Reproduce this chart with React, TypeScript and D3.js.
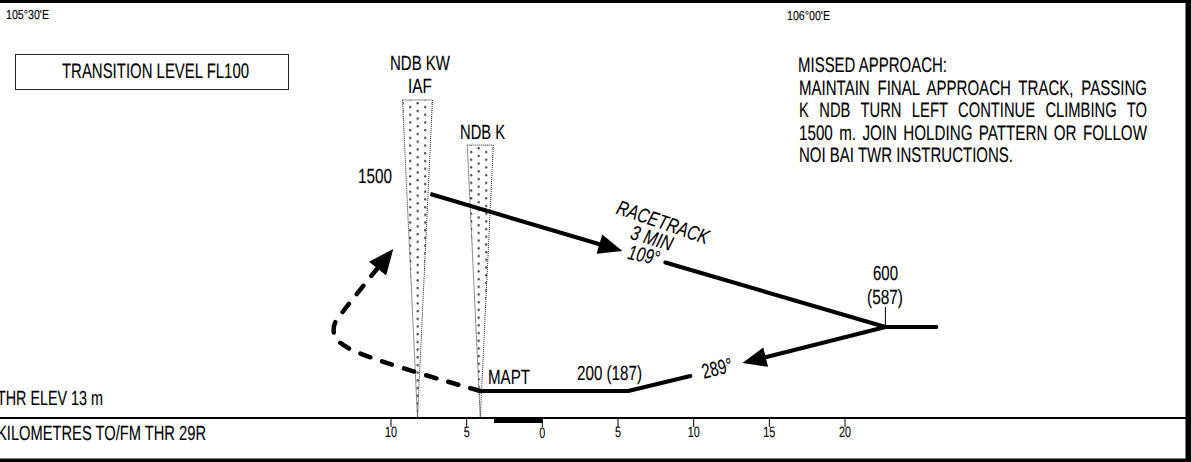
import React, { useLayoutEffect, useRef } from "react";
import * as d3 from "d3";

const W = 1191, H = 462;

// Distance axis: negative = left of the threshold on the profile (km)
const axisKm = [-10, -5, 0, 5, 10, 15, 20];
const scaleBarKm = [-3.2, 0];

// Profile data: [km, altitude m]
type P = [number, number];
const outboundLeg: P[] = [[-7.4, 1431], [5.29, 1075]];
const outboundRest: P[] = [[8.13, 1003], [22.67, 600], [26.04, 600]];
const inboundLeg: P[] = [[22.67, 600], [13.22, 375]];
const inboundRest: P[] = [[9.78, 294], [5.68, 200], [-4.1, 200]];
const missedLeg: P[] = [[-4.1, 200], [-12.69, 462], [-13.68, 537], [-13.75, 612], [-13.2, 693], [-9.85, 1087]];
const fixTick: P[] = [[22.67, 600], [22.67, 725]];

const fanKW = { km: -8.25, halfKm: 0.99, top: 2019, base: 31 };
const fanK = { km: -4.1, halfKm: 0.86, top: 1737, base: 31 };
const fans = [fanKW, fanK];

const notes = [
  { t: "MISSED APPROACH:", x: 798, y: 72, w: 149, ws: 0 },
  { t: "MAINTAIN FINAL APPROACH TRACK, PASSING", x: 799, y: 95, w: 348, ws: 5 },
  { t: "K NDB TURN LEFT CONTINUE CLIMBING TO", x: 799, y: 117, w: 348, ws: 9 },
  { t: "1500 m. JOIN HOLDING PATTERN OR FOLLOW", x: 799, y: 140, w: 348, ws: 3 },
  { t: "NOI BAI TWR INSTRUCTIONS.", x: 799, y: 162, w: 214, ws: 0 },
];
const labels = [
  { t: "105°30'E", x: 6, y: 19, w: 43, s: 13 },
  { t: "106°00'E", x: 787, y: 20, w: 43, s: 13 },
  { t: "TRANSITION LEVEL FL100", x: 62, y: 78, w: 187, s: 21 },
  { t: "NDB KW", x: 390, y: 70, w: 60, s: 20.5 },
  { t: "IAF", x: 408, y: 93, w: 24, s: 20.5 },
  { t: "NDB K", x: 460, y: 139, w: 45, s: 20.5 },
  { t: "1500", x: 358, y: 183, w: 34, s: 20.5 },
  { t: "MAPT", x: 488, y: 384, w: 42, s: 20.5 },
  { t: "200 (187)", x: 577, y: 380, w: 65, s: 20.5 },
  { t: "600", x: 873, y: 280, w: 25, s: 20.5 },
  { t: "(587)", x: 867, y: 304, w: 36, s: 20.5 },
  { t: "THR ELEV 13 m", x: -3, y: 405, w: 106, s: 20.5 },
  { t: "KILOMETRES TO/FM THR 29R", x: -3, y: 440, w: 209, s: 20.5 },
];
const rotated = [
  { t: "RACETRACK", x: 663, y: 222, w: 96, r: 19, s: 20.5, i: true },
  { t: "3 MIN", x: 652, y: 238, w: 43, r: 17, s: 20.5, i: true },
  { t: "109°", x: 644, y: 255, w: 32, r: 12, s: 20.5, i: true },
  { t: "289°", x: 717, y: 368, w: 31, r: -14, s: 20.5, i: false },
];

const FONT = "'Liberation Sans', Arial, sans-serif";

// Text squeezed horizontally to a measured target width (the reference uses a condensed face)
function Fit({ t, x, y, w, s, r = 0, ws = 0, anchor = "start", italic = false, dy }: any) {
  const ref = useRef<SVGTextElement>(null);
  useLayoutEffect(() => {
    const el = ref.current!;
    const sx = w / el.getComputedTextLength();
    el.setAttribute("transform", `translate(${x},${y}) rotate(${r}) scale(${sx},1)`);
  }, [t, x, y, w, r]);
  return (
    <text ref={ref} transform={`translate(${x},${y}) rotate(${r})`} fontSize={s} textAnchor={anchor}
      fontStyle={italic ? "italic" : "normal"} wordSpacing={ws} dy={dy} textRendering="geometricPrecision"
      stroke="#000" strokeWidth={0.12}>{t}</text>
  );
}

export default function App() {
  const x = d3.scaleLinear().domain([-10, 20]).range([391, 845]);
  const y = d3.scaleLinear().domain([0, 1500]).range([423, 183]);
  const axisY = 418;
  const line = d3.line<P>().x(d => x(d[0])).y(d => y(d[1]));
  const curved = d3.line<P>().x(d => x(d[0])).y(d => y(d[1])).curve(d3.curveCatmullRom.alpha(0.5));

  const head = (pts: P[], len: number, half: number) => {
    const a = pts[pts.length - 2], b = pts[pts.length - 1];
    const tx = x(b[0]), ty = y(b[1]);
    const ang = Math.atan2(ty - y(a[1]), tx - x(a[0]));
    const bx = tx - len * Math.cos(ang), by = ty - len * Math.sin(ang);
    const nx = -Math.sin(ang) * half, ny = Math.cos(ang) * half;
    return `${tx},${ty} ${bx + nx},${by + ny} ${bx - nx},${by - ny}`;
  };
  // Shorten last segment so the butt end hides under the arrow head
  const trim = (pts: P[], f: number): P[] => {
    const a = pts[pts.length - 2], b = pts[pts.length - 1];
    return [...pts.slice(0, -1), [a[0] + (b[0] - a[0]) * f, a[1] + (b[1] - a[1]) * f]];
  };

  return (
    <svg width={W} height={H} viewBox={`0 0 ${W} ${H}`} style={{ position: "fixed", left: 0, top: 0, background: "#fff" }} fontFamily={FONT} fill="#000">
      <defs>
        <pattern id="dotsA" patternUnits="userSpaceOnUse" x={409} y={102} width={15} height={7.7}>
          <circle cx={1.2} cy={5} r={1.15} fill="#444" />
          <circle cx={8.7} cy={1.2} r={1.15} fill="#444" />
        </pattern>
        <pattern id="dotsB" patternUnits="userSpaceOnUse" x={470} y={147} width={15} height={7.7}>
          <circle cx={1.2} cy={5} r={1.15} fill="#444" />
          <circle cx={8.7} cy={1.2} r={1.15} fill="#444" />
        </pattern>
      </defs>

      {/* frame */}
      <rect x={0} y={0} width={W} height={3} fill="#000" />
      <rect x={1185.5} y={0} width={5.5} height={H} fill="#000" />
      <rect x={0} y={458.5} width={W} height={3.5} fill="#000" />

      {/* fans */}
      {fans.map((f, i) => {
        const d = `M${x(f.km - f.halfKm)},${y(f.top)} L${x(f.km + f.halfKm)},${y(f.top)} L${x(f.km)},${y(f.base)} Z`;
        return (
          <g key={i}>
            <path d={d} fill={`url(#${i === 0 ? "dotsA" : "dotsB"})`} />
            <path d={d} fill="none" stroke="#222" strokeWidth={1} strokeDasharray="1 1" />
          </g>
        );
      })}

      {/* tracks */}
      <g fill="none" stroke="#000" strokeLinejoin="round">
        <path d={line(trim(outboundLeg, 0.93))!} strokeWidth={4} />
        <path d={line(outboundRest)!} strokeWidth={4} strokeLinecap="round" />
        <path d={line(trim(inboundLeg, 0.93))!} strokeWidth={4} />
        <path d={line(inboundRest)!} strokeWidth={4} strokeLinecap="round" />
        <path d={curved(trim(missedLeg, 0.9))!} strokeWidth={4.5} strokeDasharray="10.5 12.5" strokeLinecap="round" />
        <path d={line(fixTick)!} strokeWidth={1} />
      </g>
      <polygon points={head(outboundLeg, 24, 10)} fill="#000" />
      <polygon points={head(inboundLeg, 24, 10)} fill="#000" />
      <polygon points={head(missedLeg, 25, 11)} fill="#000" />

      {/* axis */}
      <line x1={0} x2={1186} y1={axisY} y2={axisY} stroke="#000" strokeWidth={2.2} />
      <rect x={x(scaleBarKm[0])} y={axisY} width={x(scaleBarKm[1]) - x(scaleBarKm[0])} height={5} fill="#000" />
      {axisKm.map(k => (
        <g key={k}>
          <line x1={x(k)} x2={x(k)} y1={axisY} y2={axisY + 9} stroke="#000" strokeWidth={1} />
          <Fit t={String(Math.abs(k))} x={x(k)} y={axisY + 19 + (k === 0 ? 1 : 0)} s={15} anchor="middle" w={Math.abs(k) <= 5 ? 6 : 12} />
        </g>
      ))}

      {/* transition box */}
      <rect x={15.5} y={54.5} width={273} height={35} fill="none" stroke="#222" strokeWidth={1} />

      {labels.map((l, i) => <Fit key={i} {...l} />)}
      {notes.map((n, i) => <Fit key={i} {...n} s={21} />)}
      {rotated.map((r, i) => <Fit key={i} {...r} anchor="middle" italic={r.i} dy="0.35em" />)}
    </svg>
  );
}
